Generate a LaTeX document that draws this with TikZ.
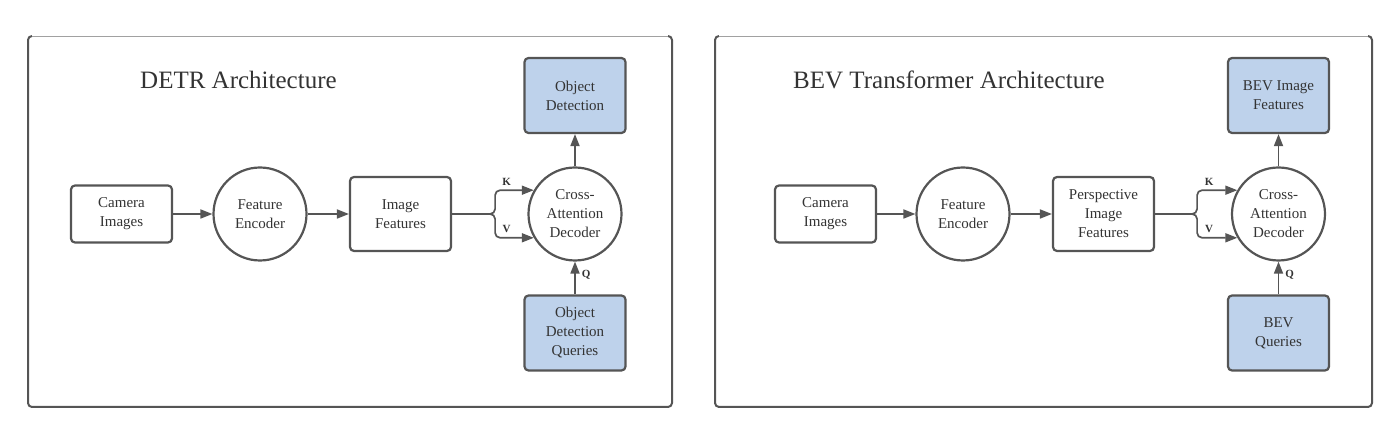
\documentclass[tikz,border=0pt]{standalone}
\usepackage{fontspec}
\setmainfont{Liberation Serif}
\usetikzlibrary{arrows.meta,positioning}
\definecolor{linegray}{RGB}{85,85,85}
\definecolor{textgray}{RGB}{51,51,51}
\definecolor{queryblue}{RGB}{190,210,235}

\begin{document}
\begin{tikzpicture}[x=1pt,y=1pt,
  panel/.style={draw=linegray,line width=2pt,rounded corners=4pt},
  topedge/.style={draw=linegray!55,line width=0.8pt},
  box/.style={draw=linegray,line width=2.2pt,rounded corners=4pt,fill=white,minimum width=101pt,align=center,text=textgray,font=\fontsize{15}{19}\selectfont},
  bluebox/.style={box,fill=queryblue,minimum height=75pt},
  unit/.style={circle,draw=linegray,line width=2.2pt,minimum size=93pt,inner sep=0pt,align=center,text=textgray,font=\fontsize{15}{19}\selectfont},
  title/.style={anchor=base west,inner sep=0pt,text=textgray,font=\fontsize{25}{30}\selectfont},
  arrow/.style={draw=linegray,line width=1.7pt,-{Triangle[length=12pt,width=9pt]}},
  link/.style={draw=linegray,line width=1.7pt},
  lbl/.style={text=textgray,font=\bfseries\fontsize{11}{13}\selectfont,inner sep=1pt}]
\useasboundingbox (0,0) rectangle (1400,436);
\draw[panel] (32,400) -- (28,400) -- (28,29) -- (672,29) -- (672,400) -- (668,400);
\draw[topedge] (32,400) -- (668,400);
\draw[panel] (719,400) -- (715,400) -- (715,29) -- (1372,29) -- (1372,400) -- (1368,400);
\draw[topedge] (719,400) -- (1368,400);

\node[title] (t1) at (140,347) {DETR Architecture};
\node[box,minimum height=57pt] (cam) at (121.5,222) {Camera\\Images};
\node[unit] (enc) at (260,222) {Feature\\Encoder};
\node[box,minimum height=74pt] (img) at (400.5,222) {Image\\Features};
\node[unit] (dec) at (575,222) {Cross-\\Attention\\Decoder};
\node[bluebox] (out) at (575,340.5) {Object\\Detection};
\node[bluebox] (qry) at (575,103) {Object\\Detection\\Queries};
\coordinate[right=37pt of img.east] (kv);
\draw[arrow] (cam) -- (enc);
\draw[arrow] (enc) -- (img);
\draw[link] (img) -- (kv);
\draw[arrow,rounded corners=5pt] (kv) -- ++(6,0) |- (dec.150) node[lbl,pos=0.65,above=3pt] {K};
\draw[arrow,rounded corners=5pt] (kv) -- ++(6,0) |- (dec.210) node[lbl,pos=0.65,above=3pt] {V};
\draw[arrow] (qry) -- (dec) node[lbl,pos=0.6,right=5pt] {Q};
\draw[arrow] (dec) -- (out);

\node[title] (t2) at (793,347) {BEV Transformer Architecture};
\node[box,minimum height=57pt] (cam2) at (825.5,222) {Camera\\Images};
\node[unit] (enc2) at (963,222) {Feature\\Encoder};
\node[box,minimum height=74pt] (img2) at (1103.5,222) {Perspective\\Image\\Features};
\node[unit] (dec2) at (1278.5,222) {Cross-\\Attention\\Decoder};
\node[bluebox] (out2) at (1278.5,340.5) {BEV Image\\Features};
\node[bluebox] (qry2) at (1278.5,103) {BEV\\Queries};
\coordinate[right=36pt of img2.east] (kv2);
\draw[arrow] (cam2) -- (enc2);
\draw[arrow] (enc2) -- (img2);
\draw[link] (img2) -- (kv2);
\draw[arrow,rounded corners=5pt] (kv2) -- ++(6,0) |- (dec2.150) node[lbl,pos=0.65,above=3pt] {K};
\draw[arrow,rounded corners=5pt] (kv2) -- ++(6,0) |- (dec2.210) node[lbl,pos=0.65,above=3pt] {V};
\draw[arrow] (qry2) -- (dec2) node[lbl,pos=0.6,right=5pt] {Q};
\draw[arrow] (dec2) -- (out2);
\end{tikzpicture}
\end{document}
